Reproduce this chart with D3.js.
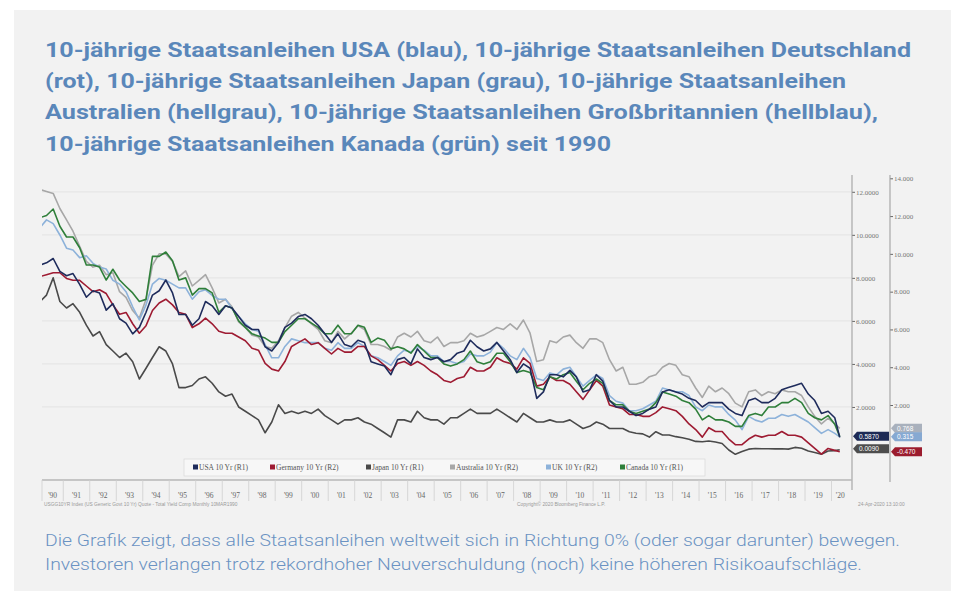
<!DOCTYPE html>
<html><head><meta charset="utf-8">
<script src="https://cdn.jsdelivr.net/npm/d3@7"></script>
<style>
html,body{margin:0;padding:0;background:#ffffff;}
svg{display:block;}
</style></head>
<body>
<svg id="chart" width="963" height="594"></svg>
<script>
// ---------- DATA (quarterly 1990Q1 .. 2020Q1, plus last value 24-Apr-2020) ----------
const titleLines = [
  "10-jährige Staatsanleihen USA (blau), 10-jährige Staatsanleihen Deutschland",
  "(rot), 10-jährige Staatsanleihen Japan (grau), 10-jährige Staatsanleihen",
  "Australien (hellgrau), 10-jährige Staatsanleihen Großbritannien (hellblau),",
  "10-jährige Staatsanleihen Kanada (grün) seit 1990"
];
const noteLines = [
  "Die Grafik zeigt, dass alle Staatsanleihen weltweit sich in Richtung 0% (oder sogar darunter) bewegen.",
  "Investoren verlangen trotz rekordhoher Neuverschuldung (noch) keine höheren Risikoaufschläge."
];
const seriesNames = ["USA 10 Yr (R1)","Germany 10 Yr (R2)","Japan 10 Yr (R1)","Australia 10 Yr (R2)","UK 10 Yr (R2)","Canada 10 Yr (R1)"];
const yearLabels = ["'90","'91","'92","'93","'94","'95","'96","'97","'98","'99","'00","'01","'02","'03","'04","'05","'06","'07","'08","'09","'10","'11","'12","'13","'14","'15","'16","'17","'18","'19","'20"];
const r1Ticks = [2,4,6,8,10,12];
const r2Ticks = [2,4,6,8,10,12,14];

const usa = [
 8.6,8.7,8.9,8.3, 8.1,8.2,7.7,7.1, 7.4,7.3,6.5,6.8, 6.1,5.9,5.4,5.7, 6.4,7.2,7.4,7.9,
 7.3,6.3,6.3,5.8, 6.1,6.9,6.7,6.3, 6.7,6.6,6.2,5.8, 5.6,5.6,4.8,4.6, 5.0,5.7,5.9,6.2,
 6.3,6.1,5.8,5.4, 5.0,5.4,4.9,4.8, 5.1,5.0,4.1,4.0, 3.9,3.5,4.2,4.3, 4.0,4.7,4.3,4.2,
 4.3,4.1,4.2,4.5, 4.6,5.1,4.8,4.6, 4.7,5.0,4.6,4.2, 3.6,4.0,3.8,2.4, 2.7,3.5,3.5,3.4,
 3.7,3.4,2.7,2.8, 3.5,3.2,2.3,2.0, 2.0,1.8,1.6,1.7, 1.9,2.0,2.7,2.8, 2.7,2.6,2.4,2.3,
 2.0,2.2,2.2,2.2, 1.9,1.7,1.6,2.3, 2.4,2.2,2.2,2.4, 2.8,2.9,3.0,3.1, 2.6,2.3,1.7,1.8,
 1.5, 0.587];
const germany = [
 8.8,8.9,9.0,9.0, 8.7,8.6,8.6,8.3, 8.0,8.1,7.9,7.3, 6.8,6.9,6.3,5.8, 6.2,7.0,7.4,7.6,
 7.3,6.9,6.8,6.1, 6.3,6.6,6.3,5.9, 5.8,5.8,5.6,5.4, 5.0,4.9,4.2,3.9, 3.8,4.3,5.1,5.3,
 5.5,5.2,5.3,5.0, 4.7,5.0,4.8,4.8, 5.1,5.1,4.6,4.4, 4.1,3.8,4.2,4.3, 4.1,4.3,4.1,3.8,
 3.6,3.3,3.2,3.4, 3.5,4.0,3.8,3.8, 4.0,4.5,4.3,4.2, 3.9,4.5,4.2,3.0, 3.1,3.5,3.3,3.3,
 3.1,2.7,2.3,2.8, 3.3,3.0,2.0,1.9, 1.8,1.5,1.5,1.4, 1.4,1.6,1.9,1.8, 1.7,1.4,1.0,0.7,
 0.3,0.8,0.6,0.6, 0.2,-0.1,-0.1,0.2, 0.4,0.3,0.4,0.4, 0.6,0.4,0.4,0.3, 0.0,-0.3,-0.6,-0.3,
 -0.4, -0.47];
const japan = [
 6.9,7.2,8.0,6.9, 6.6,6.8,6.4,5.8, 5.3,5.5,4.9,4.6, 4.3,4.5,4.1,3.3, 3.8,4.3,4.8,4.6,
 4.0,2.9,2.9,3.0, 3.3,3.4,3.1,2.7, 2.5,2.6,2.0,1.8, 1.6,1.4,0.8,1.3, 2.1,1.7,1.8,1.7,
 1.8,1.7,1.9,1.6, 1.4,1.2,1.4,1.4, 1.5,1.3,1.2,1.0, 0.8,0.6,1.4,1.4, 1.3,1.8,1.5,1.4,
 1.4,1.2,1.5,1.5, 1.7,1.9,1.7,1.7, 1.7,1.9,1.7,1.5, 1.3,1.7,1.5,1.3, 1.3,1.4,1.3,1.3,
 1.4,1.2,1.0,1.1, 1.3,1.2,1.0,1.0, 1.0,0.85,0.78,0.75, 0.6,0.85,0.7,0.7, 0.62,0.57,0.5,0.4,
 0.38,0.42,0.37,0.3, 0.0,-0.2,-0.07,0.04, 0.07,0.06,0.06,0.05, 0.06,0.04,0.12,0.08, -0.05,-0.12,-0.2,-0.05,
 -0.03, 0.009];
const australia = [
 13.4,13.3,13.2,12.4, 11.8,11.2,10.4,9.6, 9.3,9.4,8.9,9.0, 8.0,7.7,7.0,6.6, 7.6,9.4,10.0,10.0,
 9.6,8.8,9.1,8.3, 8.6,8.9,8.2,7.4, 7.6,7.2,6.4,6.1, 5.7,5.6,5.1,5.0, 5.4,6.1,6.7,6.9,
 6.6,6.3,6.0,5.4, 5.3,5.9,5.5,5.8, 6.2,6.0,5.2,5.2, 5.1,4.9,5.6,5.8, 5.6,5.9,5.4,5.3,
 5.6,5.1,5.3,5.3, 5.4,5.8,5.6,5.7, 5.9,6.1,6.0,6.3, 6.0,6.5,5.8,4.3, 4.4,5.4,5.3,5.6,
 5.7,5.3,5.0,5.5, 5.5,5.3,4.4,3.8, 4.0,3.1,3.1,3.2, 3.5,3.6,4.0,4.2, 4.1,3.6,3.5,2.9,
 2.4,3.0,2.7,2.9, 2.6,2.1,1.9,2.7, 2.8,2.5,2.7,2.6, 2.8,2.7,2.7,2.5, 1.9,1.4,1.0,1.3,
 1.0, 0.768];
const uk = [
 11.4,11.8,11.6,11.0, 10.3,10.2,9.8,9.9, 9.5,9.3,9.2,8.6, 8.4,8.0,7.2,6.5, 7.3,8.4,8.7,8.6,
 8.4,8.2,8.2,7.6, 8.0,8.1,7.8,7.6, 7.6,7.1,6.7,6.3, 6.0,5.9,5.2,4.5, 4.5,5.1,5.5,5.4,
 5.3,5.3,5.3,5.0, 4.9,5.3,5.0,5.0, 5.3,5.1,4.6,4.5, 4.3,4.1,4.6,4.9, 4.8,5.1,4.9,4.6,
 4.6,4.3,4.3,4.2, 4.3,4.7,4.6,4.6, 4.8,5.3,5.0,4.6, 4.4,5.0,4.5,3.4, 3.3,3.7,3.6,3.9,
 4.0,3.5,3.0,3.3, 3.6,3.4,2.5,2.2, 2.1,1.7,1.7,1.8, 2.0,2.2,2.9,2.8, 2.7,2.7,2.5,1.9,
 1.7,2.0,1.9,1.9, 1.5,1.2,0.7,1.4, 1.2,1.1,1.3,1.3, 1.5,1.4,1.5,1.3, 1.1,0.8,0.5,0.7,
 0.5, 0.315];
const canada = [
 10.8,10.9,11.2,10.4, 9.9,9.9,9.4,8.6, 8.6,8.5,7.9,8.4, 7.9,7.6,7.3,6.9, 7.0,9.0,9.0,9.2,
 8.8,7.9,8.0,7.2, 7.5,7.5,7.3,6.4, 6.7,6.6,6.0,5.7, 5.4,5.3,5.2,5.0, 5.0,5.5,5.8,6.1,
 6.1,5.9,5.7,5.4, 5.4,5.8,5.4,5.4, 5.8,5.7,5.0,5.2, 5.1,4.7,4.8,4.7, 4.5,4.9,4.6,4.3,
 4.3,4.0,3.9,4.0, 4.2,4.6,4.1,4.0, 4.1,4.5,4.5,4.1, 3.6,3.7,3.6,2.9, 2.8,3.4,3.3,3.5,
 3.6,3.2,2.8,3.1, 3.3,3.1,2.3,2.1, 2.1,1.8,1.7,1.8, 1.9,2.2,2.7,2.6, 2.5,2.3,2.2,1.9,
 1.4,1.6,1.4,1.4, 1.3,1.1,1.1,1.6, 1.7,1.6,2.0,2.0, 2.2,2.2,2.4,2.2, 1.7,1.5,1.4,1.6,
 1.2, 0.62];

const lastLabelsR1 = [{txt:"0.5870", v:0.587, bg:"#1d2a55"},{txt:"0.0090", v:0.009, bg:"#4d4d4d"}];
const lastLabelsR2 = [{txt:"0.768", v:0.768, bg:"#a9b1bd"},{txt:"0.315", v:0.315, bg:"#86a9d2"},{txt:"-0.470", v:-0.47, bg:"#9b1c2e"}];

// ---------- SETUP ----------
const svg = d3.select("#chart");
const blue = "#5a87ba";
svg.append("rect").attr("x",14).attr("y",10).attr("width",937).attr("height",581).attr("fill","#f2f2f2");

// title
const tW = [866, 801, 833, 566];
svg.append("g").selectAll("text").data(titleLines).join("text")
  .attr("x",45).attr("y",(d,i)=>57+i*31.2)
  .attr("font-family","Roboto, 'Noto Sans', sans-serif").attr("font-weight",700)
  .attr("font-size",20.5).attr("fill",blue)
  .attr("textLength",(d,i)=>tW[i]).attr("lengthAdjust","spacingAndGlyphs")
  .text(d=>d);

// footnote
const nW = [855, 817];
svg.append("g").selectAll("text").data(noteLines).join("text")
  .attr("x",45).attr("y",(d,i)=>546+i*24)
  .attr("font-family","Roboto, sans-serif").attr("font-weight",300)
  .attr("font-size",16.5).attr("fill","#6b93c3")
  .attr("textLength",(d,i)=>nW[i]).attr("lengthAdjust","spacingAndGlyphs")
  .text(d=>d);

// scales
const dates = usa.map((d,i)=> i < usa.length-1 ? new Date(Date.UTC(1990+Math.floor(i/4),(i%4)*3+1,15)) : new Date(Date.UTC(2020,3,24)));
const x = d3.scaleUtc().domain([new Date(Date.UTC(1990,0,1)), new Date(Date.UTC(2020,0,1))]).range([36.8, 831.5]);
const yR1 = d3.scaleLinear().domain([0,12]).range([450, 191.8]);
const yR2 = d3.scaleLinear().domain([0,14]).range([442.8, 178.3]);
const plotL = 42, plotR = 851.5, plotB = 480;

// gridlines
svg.append("g").selectAll("line").data(r1Ticks).join("line")
  .attr("x1",plotL).attr("x2",plotR).attr("y1",d=>yR1(d)).attr("y2",d=>yR1(d))
  .attr("stroke","#e6e6e6").attr("stroke-width",1.2);

// clip
svg.append("clipPath").attr("id","plotclip").append("rect")
  .attr("x",plotL).attr("y",170).attr("width",plotR-plotL).attr("height",plotB-170);

const series = [
  {name:"Australia", vals:australia, y:yR2, color:"#a7a7a7"},
  {name:"UK", vals:uk, y:yR2, color:"#8db2da"},
  {name:"Japan", vals:japan, y:yR1, color:"#4a4a4a"},
  {name:"Germany", vals:germany, y:yR2, color:"#9e1b32"},
  {name:"Canada", vals:canada, y:yR1, color:"#2f7f3a"},
  {name:"USA", vals:usa, y:yR1, color:"#1f2c5c"}
];
const gL = svg.append("g").attr("clip-path","url(#plotclip)");
series.forEach(s=>{
  const line = d3.line().x((d,i)=>x(dates[i])).y(d=>s.y(d)).curve(d3.curveLinear);
  gL.append("path").datum(s.vals).attr("d",line).attr("fill","none")
    .attr("stroke",s.color).attr("stroke-width",1.6).attr("stroke-linejoin","round");
});

// legend
const legColors = ["#1f2c5c","#9e1b32","#4a4a4a","#a7a7a7","#8db2da","#2f7f3a"];
const legX = [193, 270, 366, 450, 546, 620];
svg.append("rect").attr("x",184).attr("y",459).attr("width",521).attr("height",17)
  .attr("fill","#f7f7f7").attr("stroke","#dcdcdc").attr("stroke-width",0.8);
const lg = svg.append("g");
seriesNames.forEach((n,i)=>{
  lg.append("rect").attr("x",legX[i]).attr("y",464.5).attr("width",5).attr("height",5).attr("fill",legColors[i]);
  lg.append("text").attr("x",legX[i]+6).attr("y",470).attr("font-family","'Liberation Serif', serif")
    .attr("font-size",7.5).attr("fill","#555").text(n);
});

// x axis
svg.append("line").attr("x1",plotL).attr("x2",plotR).attr("y1",plotB).attr("y2",plotB).attr("stroke","#999").attr("stroke-width",1);
const years = d3.range(1990, 2021);
const gx = svg.append("g");
gx.selectAll("line").data(years).join("line")
  .attr("x1",d=>Math.max(x(new Date(Date.UTC(d,0,1))),plotL)).attr("x2",d=>Math.max(x(new Date(Date.UTC(d,0,1))),plotL))
  .attr("y1",plotB).attr("y2",plotB+21).attr("stroke","#cfcfcf").attr("stroke-width",0.8);
gx.selectAll("text").data(years).join("text")
  .attr("x",d=>{const a=Math.max(x(new Date(Date.UTC(d,0,1))),plotL), b=Math.min(x(new Date(Date.UTC(d+1,0,1))),849); return (a+b)/2;})
  .attr("y",plotB+18).attr("text-anchor","middle").attr("font-family","'Liberation Serif', serif")
  .attr("font-size",7.5).attr("fill","#666").text((d,i)=>yearLabels[i]);

// right axes
const axR1 = d3.axisRight(yR1).tickValues(r1Ticks).tickSize(3).tickFormat(d3.format(".4f"));
const axR2 = d3.axisRight(yR2).tickValues(r2Ticks).tickSize(3).tickFormat(d3.format(".3f"));
const g1 = svg.append("g").attr("transform","translate(852,0)").call(axR1);
const g2 = svg.append("g").attr("transform","translate(890,0)").call(axR2);
[g1,g2].forEach(g=>{
  g.select(".domain").remove();
  g.selectAll(".tick line").attr("stroke","#666");
  g.selectAll(".tick text").attr("font-family","'Liberation Serif', serif").attr("font-size",7).attr("fill","#777").attr("x",4);
});
svg.append("line").attr("x1",852).attr("x2",852).attr("y1",175).attr("y2",490).attr("stroke","#999");
svg.append("line").attr("x1",890).attr("x2",890).attr("y1",175).attr("y2",482).attr("stroke","#999");

// last-value tags
function tag(x0, x1, cy, bg, txt){
  const h=9;
  svg.append("path").attr("d",`M${x0},${cy} L${x0+4},${cy-h/2} L${x1},${cy-h/2} L${x1},${cy+h/2} L${x0+4},${cy+h/2} Z`).attr("fill",bg);
  svg.append("text").attr("x",x0+6).attr("y",cy+2.5).attr("font-family","'Liberation Sans', sans-serif")
    .attr("font-size",6.5).attr("fill","#fff").text(txt);
}
lastLabelsR1.forEach(l=>tag(853, 889, yR1(l.v)-1, l.bg, l.txt));
lastLabelsR2.forEach(l=>tag(891, 922, yR2(l.v), l.bg, l.txt));

// source lines
const small = svg.append("g").attr("font-family","'Liberation Sans', sans-serif").attr("font-size",4.8).attr("fill","#999");
small.append("text").attr("x",44).attr("y",506).text("USGG10YR Index (US Generic Govt 10 Yr) Quote - Total Yield Comp Monthly 10MAR1990");
small.append("text").attr("x",517).attr("y",506).text("Copyright© 2020 Bloomberg Finance L.P.");
small.append("text").attr("x",858).attr("y",506).text("24-Apr-2020 13:10:00");
</script>
</body></html>
